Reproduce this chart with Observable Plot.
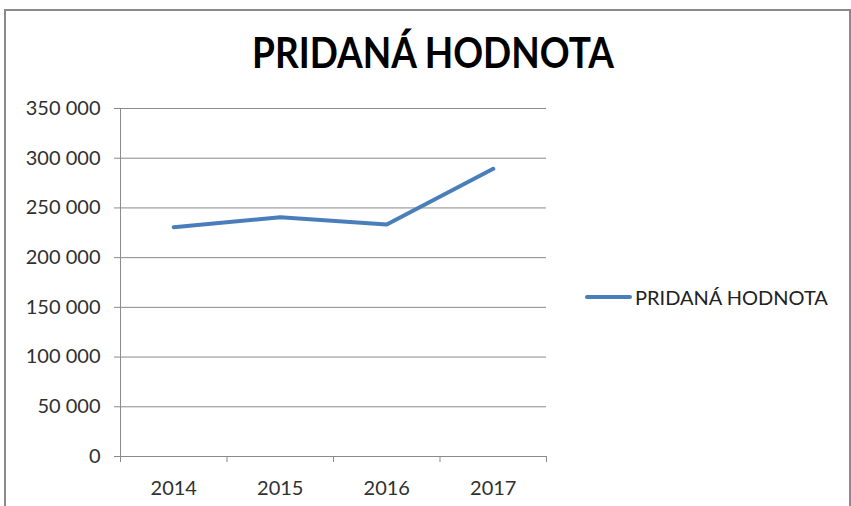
<!DOCTYPE html>
<html>
<head>
<meta charset="utf-8">
<script src="https://cdn.jsdelivr.net/npm/d3@7"></script>
<script src="https://cdn.jsdelivr.net/npm/@observablehq/plot@0.6"></script>
<style>
  html, body { margin: 0; padding: 0; background: #fff; }
  #wrap { position: relative; width: 851px; height: 506px; overflow: hidden; font-family: Lato, "Open Sans", sans-serif; }
  #frame { position: absolute; left: 4px; top: 9px; width: 843px; height: 600px; border: 2px solid #8a8a8a; }
  #chart { position: absolute; left: 0; top: 0; }
  #title { position: absolute; left: 0; width: 866px; top: 27px; text-align: center; font-weight: 700; font-size: 37px; transform: scaleY(1.12); transform-origin: center top; color: #000; }
  #legend { position: absolute; left: 585px; top: 285px; display: flex; align-items: center; font-size: 20px; color: #222; }
  #legend .sw { width: 47px; height: 4px; background: #4a7ebb; border-radius: 2px; margin-right: 3px; }
</style>
</head>
<body>
<div id="wrap">
  <div id="frame"></div>
  <div id="chart"></div>
  <div id="title">PRIDANÁ HODNOTA</div>
  <div id="legend"><div class="sw"></div><span id="legendText"></span></div>
</div>
<script>
const title = "PRIDANÁ HODNOTA";
const seriesName = "PRIDANÁ HODNOTA";
const years = [2014, 2015, 2016, 2017];
const values = [230600, 240700, 233300, 289400];
const yTicks = [0, 50000, 100000, 150000, 200000, 250000, 300000, 350000];

document.getElementById("title").textContent = title;
document.getElementById("legendText").textContent = seriesName;

const data = years.map((y, i) => ({year: y, value: values[i]}));
const xLo = years[0] - 0.5, xHi = years[years.length - 1] + 0.5;
const bounds = years.map(y => y - 0.5).concat([xHi]);
const fmt = d => d3.format(",")(d).replace(/,/g, " ");
const gray = "#8a8a8a";

const chart = Plot.plot({
  width: 851,
  height: 506,
  marginLeft: 120,
  marginRight: 305,
  marginTop: 108,
  marginBottom: 50,
  style: { fontFamily: "Lato, 'Open Sans', sans-serif", background: "transparent" },
  x: { type: "linear", domain: [xLo, xHi] },
  y: { domain: [0, yTicks[yTicks.length - 1]] },
  marks: [
    Plot.gridY(yTicks, { stroke: gray, strokeOpacity: 1, strokeWidth: 1 }),
    Plot.axisY(yTicks, { tickSize: 6, tickFormat: () => "", color: gray, label: null }),
    Plot.axisY(yTicks, { tickSize: 0, tickPadding: 20, tickFormat: fmt, color: "#303030", fontSize: 20, label: null }),
    Plot.axisX(bounds, { tickSize: 6, tickFormat: () => "", color: gray, label: null }),
    Plot.axisX(years, { tickSize: 0, tickPadding: 24, tickFormat: d => String(d), color: "#303030", fontSize: 20, label: null }),
    Plot.ruleY([0], { stroke: gray, strokeWidth: 1 }),
    Plot.ruleX([xLo], { stroke: gray, strokeWidth: 1 }),
    Plot.line(data, { x: "year", y: "value", stroke: "#4a7ebb", strokeWidth: 4 })
  ]
});
document.getElementById("chart").appendChild(chart);
</script>
</body>
</html>
